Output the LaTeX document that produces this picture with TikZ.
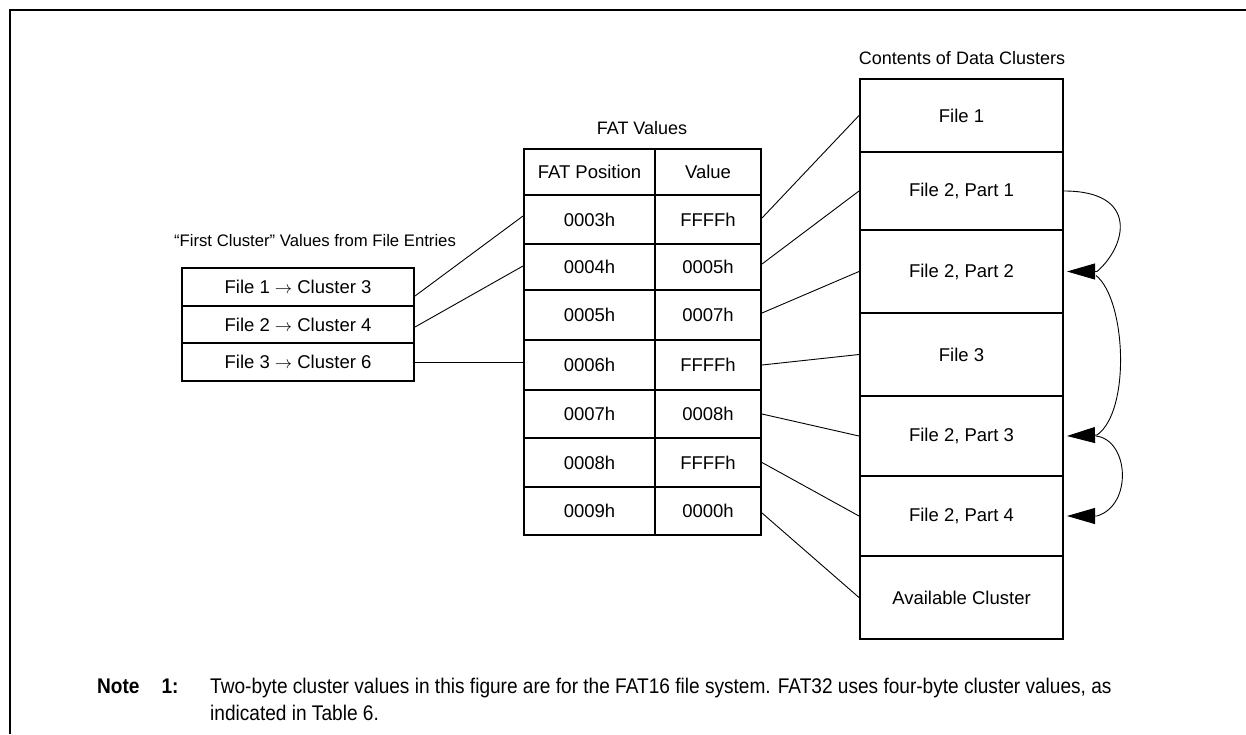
\documentclass[tikz,border=0pt]{standalone}
\usepackage{fontspec}
\setmainfont{Liberation Sans}
\newfontfamily\notefont{Liberation Sans}[FakeStretch=0.9]
\usetikzlibrary{arrows.meta,calc}
\begin{document}
\begin{tikzpicture}[x=1pt,y=-1pt,
  cell/.style={draw,line width=2pt,rectangle,inner sep=0pt,font=\fontsize{18.5}{21}\selectfont},
  lbl/.style={inner sep=0pt,font=\fontsize{18}{21}\selectfont},
  link/.style={line width=0.9pt},
  curv/.style={line width=0.9pt,-{Triangle[length=28pt,width=16pt]}},
  frame/.style={line width=2.2pt},
  note/.style={anchor=base west,inner sep=0pt,font=\notefont\fontsize{21.2}{24}\selectfont},
]
\useasboundingbox (0,0) rectangle (1246,734);
\draw[frame] (10,734) -- (10,10) -- (1246,10);

% left table
\node[lbl,font=\fontsize{16.7}{20}\selectfont] (t1) at (315,241) {``First Cluster'' Values from File Entries};
\node[cell,minimum width=232pt,minimum height=38pt] (l1) at (298,287) {File 1 $\rightarrow$ Cluster 3};
\node[cell,minimum width=232pt,minimum height=37pt] (l2) at (298,324.5) {File 2 $\rightarrow$ Cluster 4};
\node[cell,minimum width=232pt,minimum height=38pt] (l3) at (298,362) {File 3 $\rightarrow$ Cluster 6};

% FAT table
\node[lbl] (t2) at (642,128) {FAT Values};
\node[cell,minimum width=131pt,minimum height=46pt] (ph) at (589.5,172) {FAT Position};
\node[cell,minimum width=106pt,minimum height=46pt] (vh) at (708,172) {Value};
\node[cell,minimum width=131pt,minimum height=49pt] (p3) at (589.5,219.5) {0003h};
\node[cell,minimum width=106pt,minimum height=49pt] (v3) at (708,219.5) {FFFFh};
\node[cell,minimum width=131pt,minimum height=46pt] (p4) at (589.5,267) {0004h};
\node[cell,minimum width=106pt,minimum height=46pt] (v4) at (708,267) {0005h};
\node[cell,minimum width=131pt,minimum height=50pt] (p5) at (589.5,315) {0005h};
\node[cell,minimum width=106pt,minimum height=50pt] (v5) at (708,315) {0007h};
\node[cell,minimum width=131pt,minimum height=50pt] (p6) at (589.5,365) {0006h};
\node[cell,minimum width=106pt,minimum height=50pt] (v6) at (708,365) {FFFFh};
\node[cell,minimum width=131pt,minimum height=48pt] (p7) at (589.5,414) {0007h};
\node[cell,minimum width=106pt,minimum height=48pt] (v7) at (708,414) {0008h};
\node[cell,minimum width=131pt,minimum height=49pt] (p8) at (589.5,462.5) {0008h};
\node[cell,minimum width=106pt,minimum height=49pt] (v8) at (708,462.5) {FFFFh};
\node[cell,minimum width=131pt,minimum height=48pt] (p9) at (589.5,511) {0009h};
\node[cell,minimum width=106pt,minimum height=48pt] (v9) at (708,511) {0000h};

% data clusters
\node[lbl] (t3) at (962,58) {Contents of Data Clusters};
\node[cell,minimum width=203pt,minimum height=73pt] (c1) at (961.5,115.5) {File 1};
\node[cell,minimum width=203pt,minimum height=78pt] (c2) at (961.5,191) {File 2, Part 1};
\node[cell,minimum width=203pt,minimum height=83pt] (c3) at (961.5,271.5) {File 2, Part 2};
\node[cell,minimum width=203pt,minimum height=83pt] (c4) at (961.5,354.5) {File 3};
\node[cell,minimum width=203pt,minimum height=80pt] (c5) at (961.5,436) {File 2, Part 3};
\node[cell,minimum width=203pt,minimum height=80pt] (c6) at (961.5,516) {File 2, Part 4};
\node[cell,minimum width=203pt,minimum height=83pt] (c7) at (961.5,597.5) {Available Cluster};

% links: file entries -> FAT
\draw[link] ([yshift=-9pt]l1.east) -- ([yshift=3.5pt]p3.west);
\draw[link] ([yshift=-2.5pt]l2.east) -- ([yshift=1pt]p4.west);
\draw[link] (l3.east) -- (l3.east -| p6.west);

% links: FAT -> clusters
\draw[link] ([yshift=1.5pt]v3.east) -- (c1.west);
\draw[link] ([yshift=3pt]v4.east) -- (c2.west);
\draw[link] ([yshift=2pt]v5.east) -- (c3.west);
\draw[link] (v6.east) -- (c4.west);
\draw[link] (v7.east) -- (c5.west);
\draw[link] (v8.east) -- (c6.west);
\draw[link] ([yshift=-2pt]v9.east) -- (c7.west);

% chain arrows
\draw[curv] (c2.east) .. controls +(75,0) and +(30,-26) .. ($(c3.east)+(33,0)$) -- ([xshift=3pt]c3.east);
\draw[curv] ($(c3.east)+(32,4)$) .. controls +(30,24) and +(34,-24) .. ($(c5.east)+(33,-1)$) -- ([xshift=3pt]c5.east);
\draw[curv] ($(c5.east)+(32,0)$) .. controls +(33,4) and +(36,-11) .. ($(c6.east)+(33,0)$) -- ([xshift=3pt]c6.east);

% note
\node[note,font=\notefont\fontsize{21.2}{24}\selectfont\bfseries] (n1) at (97,693) {Note\hspace{22pt}1:};
\node[note] (n2) at (210,693) {Two-byte cluster values in this figure are for the FAT16 file system. FAT32 uses four-byte cluster values, as};
\node[note] (n3) at (210,720) {indicated in Table 6.};
\end{tikzpicture}
\end{document}
